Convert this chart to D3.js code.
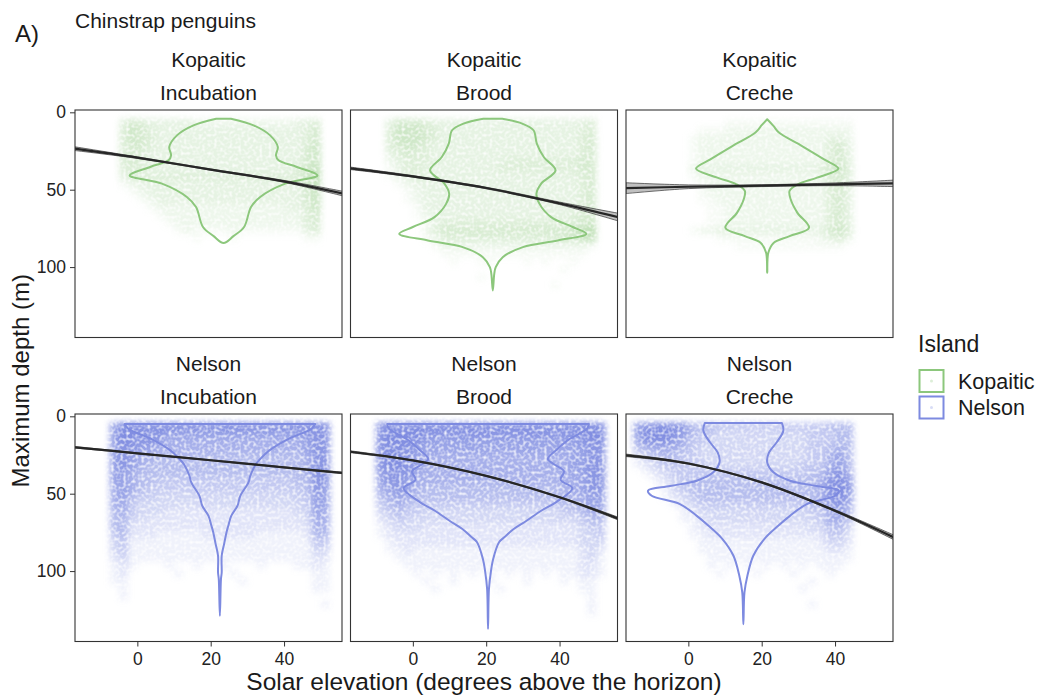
<!DOCTYPE html>
<html><head><meta charset="utf-8">
<script src="https://cdn.jsdelivr.net/npm/d3@7"></script>
<style>
body{margin:0;background:#fff;}
svg{display:block;}
text{font-family:"Liberation Sans",Arial,sans-serif;}
</style>
</head><body>
<svg id="chart" width="1038" height="698"></svg>
<script>
// ---------------- data ----------------
const islands = ["Kopaitic", "Nelson"];
const stages = ["Incubation", "Brood", "Creche"];
const xTicks = [0, 20, 40];
const yTicks = [0, 50, 100];
const xDomain = [-17, 55.8];
const yDomain = [-1.5, 145.5];
const islandColours = ["#8cc77c", "#7d8ae0"];

// fitted smooth (solar elevation -> depth) with confidence half-width
const fitX = [-17, 0, 20, 40, 56];
const fitKopaiticIncubation = [23.5, 29.3, 37.0, 44.6, 52.5];
const ciKopaiticIncubation  = [1.2, 0.5, 0.4, 0.6, 1.5];
const fitKopaiticBrood = [36.2, 41.4, 48.9, 58.8, 67.7];
const ciKopaiticBrood  = [0.8, 0.5, 0.5, 0.8, 2.5];
const fitKopaiticCreche = [49.0, 48.1, 47.4, 46.5, 45.9];
const ciKopaiticCreche  = [3.5, 1.2, 0.6, 0.9, 2.1];
const fitNelsonIncubation = [20.0, 23.9, 28.4, 33.0, 36.6];
const ciNelsonIncubation  = [0.5, 0.3, 0.3, 0.3, 0.5];
const fitNelsonBrood = [22.9, 28.5, 38.5, 52.3, 66.1];
const ciNelsonBrood  = [0.6, 0.3, 0.3, 0.4, 0.9];
const fitNelsonCreche = [25.2, 30.5, 42.7, 61.0, 78.2];
const ciNelsonCreche  = [0.8, 0.4, 0.4, 0.6, 1.5];

// violins: centre (solar elevation), depth knots, half width (degrees)
const violinKopaiticIncubation = {centre: 23.5,
  depth: [4.1, 8.4, 14.9, 22.4, 27.8, 31, 35.3, 40.7, 46.1, 54.7, 61.2, 74.1, 80, 84.5],
  hw:    [2, 8.2, 12.7, 14.8, 14.3, 15, 20, 25.6, 16.8, 10, 7.5, 5.6, 2.7, 0]};
const violinKopaiticBrood = {centre: 21.8,
  depth: [4.1, 7.3, 11.6, 20.2, 28.9, 37.5, 46.1, 52.6, 59, 67.7, 74.1, 78.5, 82.8, 87.1, 93.6, 100, 104.4, 115.2],
  hw:    [2.6, 8, 11.1, 12, 13.9, 17.1, 13.2, 11.9, 12.7, 15.9, 21.8, 25.5, 17.7, 8.2, 2.7, 0.8, 0.4, 0]};
const violinKopaiticCreche = {centre: 21.5,
  depth: [4.5, 8.8, 13.1, 21.8, 30.4, 36.4, 42.2, 46.5, 50.8, 56.2, 64.8, 74.6, 80, 84.3, 90.8, 103.7],
  hw:    [0, 1.7, 3.2, 9.5, 15.5, 19.4, 13.6, 8.4, 6.1, 6.4, 8.2, 11.4, 6.1, 1.8, 0.3, 0]};
const violinNelsonIncubation = {centre: 22.5,
  depth: [5, 8, 14.7, 22, 27.6, 31, 38.4, 42.7, 51.3, 57.8, 64.3, 70.7, 75, 82, 90.1, 100.9, 105, 128.9],
  hw:    [26, 25, 18.6, 13.5, 11, 9.8, 8.3, 7.8, 5.6, 4.8, 3.1, 2.3, 1.8, 1.2, 0.5, 0.5, 0.3, 0]};
const violinNelsonBrood = {centre: 20.5,
  depth: [5, 8, 15, 21, 27.6, 31, 35.5, 41, 46.5, 55.6, 61, 67.5, 72.8, 78, 81.4, 92.2, 100, 111.6, 137.5],
  hw:    [27.5, 27, 22, 19, 16.3, 18, 20.7, 19.8, 23, 18.5, 14.5, 10.5, 7, 4.5, 3, 1.4, 0.8, 0.25, 0]};
const violinNelsonCreche = {centre: 15,
  depth: [4.3, 9.3, 16.8, 23.3, 29.7, 36.2, 41.6, 45, 48, 51.3, 56.7, 64.3, 70.7, 79.3, 90.1, 103, 113.8, 134.3],
  hw:    [10.5, 10.9, 9.1, 7, 6.5, 8.2, 12.7, 20, 26, 25, 17.3, 12.7, 9.5, 5.7, 2.7, 1.1, 0.3, 0]};

// point-cloud density (0-9), bins of 2.5 deg from -15, 5 m from 4 m
const gridX0 = -15, gridDX = 2.5, gridY0 = 4, gridDY = 5;
const cloudKopaiticIncubation = [
"0000 354 33333222222222223 34 00",
"0000 465 43333333333333333 45 00",
"0000 465 43333333333333333 45 00",
"0000 455 43333333333333333 46 00",
"0000 454 33333333333333333 56 00",
"0000 454 33333333333333333 56 00",
"0000 444 33333333333333334 57 00",
"0000 344 44444444444444444 68 00",
"0000 123 33333333333333333 57 00",
"0000 012 33333333333333333 56 00",
"0000 001 23333333333333333 56 00",
"0000 000 12222222222222233 46 00",
"0000 000 01222222222222222 45 00",
"0000 000 00122222222222222 45 00",
"0000 000 00012111121111111 34 00",
"0000 000 00000100010000000 11 00"];
const cloudKopaiticBrood = [
"000 355 543333333333333333 34 00",
"000 466 654333333333333333 44 00",
"000 466 654333333333333333 45 00",
"000 456 543333333333333333 45 00",
"000 345 443333333333333333 45 00",
"000 234 443333333344444444 55 00",
"000 134 433333333444444444 55 00",
"000 123 433333333333333333 45 00",
"000 012 333333333333333333 45 00",
"000 001 233333333333333333 45 00",
"000 001 233333333333333333 45 00",
"000 000 133333333333333333 45 00",
"000 000 123333333333333334 55 00",
"000 000 013444444444444444 56 00",
"000 000 024555555555555556 78 00",
"000 000 012444444444444455 67 00",
"000 000 001222222222222222 21 00",
"000 000 000111111111111111 10 00",
"000 000 000010011000101001 00 00",
"000 000 000000000000000010 00 00",
"000 000 000000010000000000 00 00",
"000 000 000000000000000100 00 00"];
const cloudKopaiticCreche = [
"000000 000011111111111 111 0000",
"000000 011122222222222 222 0000",
"000000 122222222222222 332 0000",
"000000 122222222222222 453 0000",
"000000 122222222222222 453 0000",
"000000 122222222222222 453 0000",
"000000 233333333333334 564 0000",
"000000 122222222222222 453 0000",
"000000 012222222222222 453 0000",
"000000 012222222222222 453 0000",
"000000 011222222222222 453 0000",
"000000 001122222222222 453 0000",
"000000 001122222222222 453 0000",
"000000 001122222222222 453 0000",
"000000 122333333333333 564 0000",
"000000 000111111111112 342 0000",
"000000 000001111111111 110 0000"];
const cloudNelsonIncubation = [
"000 799 9999999999999999999 99 0",
"000 799 8887777777777777778 88 0",
"000 798 8876666666666666667 88 0",
"000 788 7766666666666666667 88 0",
"000 787 6655555555555555556 88 0",
"000 787 6555555555555555556 88 0",
"000 776 5555555555555555556 88 0",
"000 776 5544444444444444455 88 0",
"000 676 5444444444444444445 87 0",
"000 675 4433333333333333344 77 0",
"000 664 3333333333333333334 77 0",
"000 564 3332222222222222233 76 0",
"000 553 3222222222222222223 66 0",
"000 552 2222222222222222222 66 0",
"000 452 2211111222222111112 55 0",
"000 341 1111111111111111111 44 0",
"000 341 1111111111111111111 33 0",
"000 231 1111111111111111111 22 0",
"000 121 0001001001000100011 21 0",
"000 120 0000100000100000000 11 0",
"000 110 0000000000010000000 11 0",
"000 010 0000000000000000000 11 0",
"000 010 0000000000000000000 00 0",
"000 000 0000000000000000000 01 0"];
const cloudNelsonBrood = [
"00 8999 999999999999999999 999 0",
"00 8999 988888888888888888 899 0",
"00 8999 877777777777777777 889 0",
"00 8998 777777777777777777 788 0",
"00 8998 766666666666666667 788 0",
"00 8998 766666666666666667 788 0",
"00 7888 666666666666666667 788 0",
"00 7887 666666666666666666 788 0",
"00 6787 655555555555555566 788 0",
"00 5676 555555555555555556 677 0",
"00 4565 444444444444444455 677 0",
"00 3454 433333333333333344 566 0",
"00 2343 333333333333333333 455 0",
"00 1233 322222222222222222 344 0",
"00 1222 222222222222222222 334 0",
"00 0122 222222222222222222 333 0",
"00 0112 111111111111111111 232 0",
"00 0011 111111111111111111 231 0",
"00 0001 111111111111111111 221 0",
"00 0000 101010101010101011 221 0",
"00 0000 010010001000100010 110 0",
"00 0000 001000000100000000 110 0",
"00 0000 000000000000000000 010 0",
"00 0000 000000000000000000 010 0",
"00 0000 000000000000000000 010 0"];
const cloudNelsonCreche = [
"789988 555444444444444 555 0000",
"799987 544333333333344 455 0000",
"688876 443333333333344 455 0000",
"456665 433333333333344 565 0000",
"234554 433333333333344 675 0000",
"123444 443333333333444 675 0000",
"012344 444444444444455 786 0000",
"001234 555555555555556 897 0000",
"000134 555555555555556 898 0000",
"000123 455555555555556 897 0000",
"000012 344444444444455 786 0000",
"000001 233333333333344 675 0000",
"000001 123333333333334 664 0000",
"000000 122222222222233 553 0000",
"000000 112222222222222 442 0000",
"000000 011111111111112 332 0000",
"000000 011111111111111 221 0000",
"000000 001111111111111 111 0000",
"000000 001010101010101 110 0000",
"000000 000100010001000 100 0000",
"000000 000000000000010 000 0000",
"000000 000000000000100 000 0000",
"000000 000000000000000 000 0000",
"000000 000000000000010 000 0000"];

const fits = [[fitKopaiticIncubation, fitKopaiticBrood, fitKopaiticCreche],
              [fitNelsonIncubation, fitNelsonBrood, fitNelsonCreche]];
const cis = [[ciKopaiticIncubation, ciKopaiticBrood, ciKopaiticCreche],
             [ciNelsonIncubation, ciNelsonBrood, ciNelsonCreche]];
const violins = [[violinKopaiticIncubation, violinKopaiticBrood, violinKopaiticCreche],
                 [violinNelsonIncubation, violinNelsonBrood, violinNelsonCreche]];
const clouds = [[cloudKopaiticIncubation, cloudKopaiticBrood, cloudKopaiticCreche],
                [cloudNelsonIncubation, cloudNelsonBrood, cloudNelsonCreche]];

// ---------------- layout ----------------
const svg = d3.select("#chart");
const panelLeft = [75, 350.5, 626], panelTop = [110, 414];
const panelW = 267, panelH = 227.5;
const cloudStrength = [0.072, 0.115];
const textCol = "#1a1a1a";

const x = d3.scaleLinear().domain(xDomain).range([0, panelW]);
const y = d3.scaleLinear().domain(yDomain).range([0, panelH]);

const defs = svg.append("defs");
const flt = defs.append("filter").attr("id", "soft")
  .attr("x", "-10%").attr("y", "-10%").attr("width", "120%").attr("height", "120%")
  .attr("color-interpolation-filters", "sRGB");
flt.append("feGaussianBlur").attr("in", "SourceGraphic").attr("stdDeviation", 3).attr("result", "b");
flt.append("feTurbulence").attr("type", "fractalNoise").attr("baseFrequency", 0.33)
  .attr("numOctaves", 1).attr("seed", 11).attr("result", "n");
flt.append("feColorMatrix").attr("in", "n").attr("type", "matrix")
  .attr("values", "0 0 0 0 0  0 0 0 0 0  0 0 0 0 0  2.2 0 0 0 -0.25").attr("result", "m");
flt.append("feComposite").attr("in", "b").attr("in2", "m").attr("operator", "in");

defs.append("clipPath").attr("id", "pclip")
  .append("rect").attr("x", 0).attr("y", 0).attr("width", panelW).attr("height", panelH);

function parseGrid(rows) {
  const cells = [];
  rows.forEach((row, i) => {
    const s = row.replace(/\s+/g, "");
    for (let j = 0; j < s.length; j++) {
      const d = +s[j];
      if (d > 0) cells.push({x0: gridX0 + j * gridDX, y0: gridY0 + i * gridDY, d});
    }
  });
  return cells;
}

function violinPath(v) {
  const right = v.depth.map((d, i) => [x(v.centre + v.hw[i]), y(d)]);
  let left = v.depth.map((d, i) => [x(v.centre - v.hw[i]), y(d)]).reverse();
  if (v.hw[v.hw.length - 1] === 0) left = left.slice(1);
  let pts = right.concat(left);
  if (v.hw[0] === 0) pts = pts.slice(0, pts.length - 1);
  return d3.line().curve(d3.curveCatmullRom.alpha(0.5))(pts) + "Z";
}

islands.forEach((isl, r) => {
  stages.forEach((stg, c) => {
    const g = svg.append("g").attr("transform", `translate(${panelLeft[c]},${panelTop[r]})`);
    const col = islandColours[r];
    const clip = g.append("g").attr("clip-path", "url(#pclip)");

    // point cloud (density)
    const cells = parseGrid(clouds[r][c]);
    clip.append("g").attr("filter", "url(#soft)")
      .selectAll("rect").data(cells).join("rect")
      .attr("x", d => x(d.x0)).attr("y", d => y(d.y0))
      .attr("width", d => x(d.x0 + gridDX) - x(d.x0))
      .attr("height", d => y(d.y0 + gridDY) - y(d.y0))
      .attr("fill", col)
      .attr("fill-opacity", d => Math.min(1, d.d * cloudStrength[r]));

    // violin
    clip.append("path").attr("d", violinPath(violins[r][c]))
      .attr("fill", "none").attr("stroke", col).attr("stroke-width", 2)
      .attr("stroke-linejoin", "round");

    // smooth + ribbon
    const fit = fits[r][c], ci = cis[r][c];
    const rows = fitX.map((xv, i) => ({xv, f: fit[i], lo: fit[i] - ci[i], hi: fit[i] + ci[i]}));
    clip.append("path").datum(rows)
      .attr("d", d3.area().curve(d3.curveCatmullRom).x(d => x(d.xv)).y0(d => y(d.lo)).y1(d => y(d.hi)))
      .attr("fill", "#8c8c8c").attr("fill-opacity", 0.55)
      .attr("stroke", "#333").attr("stroke-width", 0.7);
    clip.append("path").datum(rows)
      .attr("d", d3.line().curve(d3.curveCatmullRom).x(d => x(d.xv)).y(d => y(d.f)))
      .attr("fill", "none").attr("stroke", "#262626").attr("stroke-width", 2.2);

    // border
    g.append("rect").attr("x", 0).attr("y", 0).attr("width", panelW).attr("height", panelH)
      .attr("fill", "none").attr("stroke", "#333").attr("stroke-width", 1.1);

    // strip labels
    g.append("text").attr("x", panelW / 2).attr("y", -43).attr("text-anchor", "middle")
      .attr("font-size", 21).attr("fill", textCol).text(isl);
    g.append("text").attr("x", panelW / 2).attr("y", -10).attr("text-anchor", "middle")
      .attr("font-size", 21).attr("fill", textCol).text(stg);

    // axes
    if (c === 0) {
      const ax = g.append("g").call(d3.axisLeft(y).tickValues(yTicks).tickSize(5).tickPadding(4));
      ax.select(".domain").remove();
      ax.selectAll("line").attr("stroke", "#333");
      ax.selectAll("text").attr("font-size", 17.5).attr("fill", "#222").attr("font-family", null);
    }
    if (r === 1) {
      const ax = g.append("g").attr("transform", `translate(0,${panelH})`)
        .call(d3.axisBottom(x).tickValues(xTicks).tickSize(5).tickPadding(6));
      ax.select(".domain").remove();
      ax.selectAll("line").attr("stroke", "#333");
      ax.selectAll("text").attr("font-size", 17.5).attr("fill", "#222").attr("font-family", null);
    }
  });
});

// titles
svg.append("text").attr("x", 15).attr("y", 42).attr("font-size", 24).attr("fill", textCol).text("A)");
svg.append("text").attr("x", 75).attr("y", 28).attr("font-size", 21).attr("fill", textCol).text("Chinstrap penguins");
svg.append("text").attr("x", (panelLeft[0] + panelLeft[2] + panelW) / 2).attr("y", 690)
  .attr("text-anchor", "middle").attr("font-size", 24.5).attr("fill", textCol)
  .text("Solar elevation (degrees above the horizon)");
svg.append("text").attr("transform", `translate(29,${(panelTop[0] + panelTop[1] + panelH) / 2 + 5}) rotate(-90)`)
  .attr("text-anchor", "middle").attr("font-size", 24).attr("fill", textCol)
  .text("Maximum depth (m)");

// legend
const lg = svg.append("g").attr("transform", "translate(918,0)");
lg.append("text").attr("x", 0).attr("y", 352).attr("font-size", 23).attr("fill", textCol).text("Island");
islands.forEach((isl, i) => {
  const ky = 370 + i * 26.5;
  lg.append("rect").attr("x", 1.5).attr("y", ky).attr("width", 24).attr("height", 22)
    .attr("fill", "#fff").attr("stroke", islandColours[i]).attr("stroke-width", 2);
  lg.append("circle").attr("cx", 13.5).attr("cy", ky + 11).attr("r", 1.5)
    .attr("fill", islandColours[i]).attr("fill-opacity", 0.3);
  lg.append("text").attr("x", 40).attr("y", ky + 18.5).attr("font-size", 21.5).attr("fill", textCol).text(isl);
});
</script>
</body></html>
